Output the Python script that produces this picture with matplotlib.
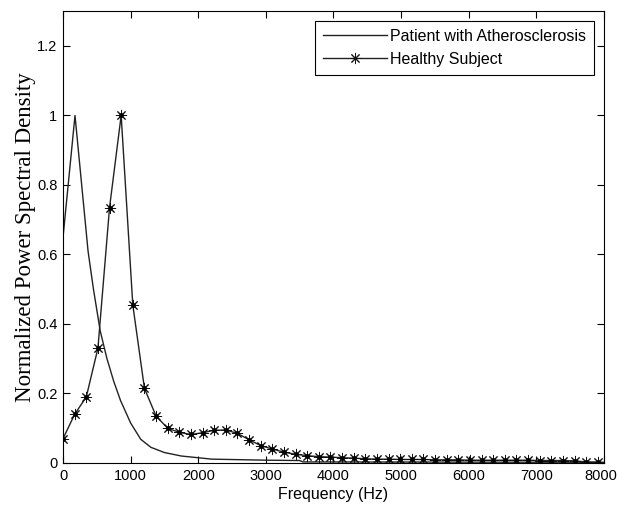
import numpy as np
import matplotlib
matplotlib.use("Agg")
import matplotlib.pyplot as plt
from matplotlib.transforms import ScaledTranslation

# patient curve (finer sampling)
patient_freq = [0, 177, 370, 450, 550, 650, 750, 850, 1000, 1150, 1300, 1500,
                1750, 2000, 2200, 3000, 3500, 3550, 8000]
patient_psd = [0.65, 1.0, 0.61, 0.50, 0.38, 0.30, 0.235, 0.18, 0.115, 0.068,
               0.045, 0.03, 0.02, 0.015, 0.011, 0.008, 0.007, 0.003, 0.002]

# healthy subject, one marker every 172 Hz
healthy_freq = np.arange(47) * 172
healthy_psd = [0.07, 0.14, 0.19, 0.33, 0.735, 1.0, 0.455, 0.215, 0.135, 0.10,
               0.088, 0.082, 0.087, 0.094, 0.095, 0.085, 0.067, 0.05, 0.04,
               0.031, 0.025, 0.021, 0.018, 0.017, 0.015, 0.014, 0.012, 0.011,
               0.011, 0.010, 0.010, 0.010, 0.009, 0.009, 0.009, 0.008, 0.008,
               0.008, 0.008, 0.008, 0.008, 0.007, 0.007, 0.007, 0.006, 0.003,
               0.002]

xticks = [0, 1000, 2000, 3000, 4000, 5000, 6000, 7000, 8000]
yticks = [0, 0.2, 0.4, 0.6, 0.8, 1, 1.2]
ytick_labels = ['0', '0.2', '0.4', '0.6', '0.8', '1', '1.2']

plt.rcParams['font.family'] = ['Liberation Sans', 'DejaVu Sans']

fig = plt.figure(figsize=(6.18, 5.11), dpi=100)
ax = fig.add_axes([0.102, 0.094, 0.875, 0.884])

ax.plot(patient_freq, patient_psd, color='#222222', lw=1.0,
        label='Patient with Atherosclerosis')
# matlab-style '*' marker: 8 spokes with a dark centre
ax.plot(healthy_freq, healthy_psd, color='#222222', lw=1.0, marker=(8, 2, 0),
        markersize=8, markerfacecolor='black', markeredgecolor='#111111',
        markeredgewidth=0.7, label='Healthy Subject')
ax.plot(healthy_freq, healthy_psd, ls='none', marker='o', markersize=2.5,
        color='black')

ax.set_xlim(0, 8000)
ax.set_ylim(0, 1.3)
ax.set_xticks(xticks)
ax.set_yticks(yticks)
ax.set_yticklabels(ytick_labels)
ax.tick_params(direction='in', length=5, top=True, right=True,
               labelsize=10.5, width=0.8, pad=4)
for s in ax.spines.values():
    s.set_linewidth(0.8)

# nudge the last x label so it stays inside the figure
last = ax.get_xticklabels()[-1]
last.set_transform(last.get_transform() + ScaledTranslation(-3 / 100, 0, fig.dpi_scale_trans))

ax.set_xlabel('Frequency (Hz)', fontsize=11.5, labelpad=3)
ax.set_ylabel('Normalized Power Spectral Density', fontsize=16.5,
              family=['Liberation Serif', 'DejaVu Serif'], labelpad=1)

leg = ax.legend(loc='upper right', fontsize=11.5, fancybox=False,
                framealpha=1, edgecolor='black', handlelength=4.0,
                borderaxespad=0.6, labelspacing=0.5, handletextpad=0.2,
                borderpad=0.5)
leg.get_frame().set_linewidth(0.8)

fig.savefig('out.png', dpi=100)
